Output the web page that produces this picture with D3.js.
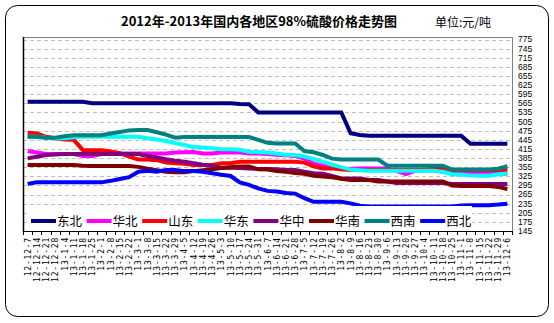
<!DOCTYPE html>
<html><head><meta charset="utf-8">
<script src="https://cdn.jsdelivr.net/npm/d3@7/dist/d3.min.js"></script>
<style>body{margin:0;background:#fff}svg{display:block}</style>
</head><body>
<svg id="c" width="554" height="323"></svg>
<script>
const categories = ["12-12-7","12-12-14","12-12-21","12-12-28","13-1-4","13-1-11","13-1-18","13-1-25","13-2-1","13-2-8","13-2-15","13-2-22","13-3-1","13-3-8","13-3-15","13-3-22","13-3-29","13-4-5","13-4-12","13-4-19","13-4-26","13-5-3","13-5-10","13-5-17","13-5-24","13-5-31","13-6-7","13-6-14","13-6-21","13-6-28","13-7-5","13-7-12","13-7-19","13-7-26","13-8-2","13-8-9","13-8-16","13-8-23","13-8-30","13-9-6","13-9-13","13-9-20","13-9-27","13-10-4","13-10-11","13-10-18","13-10-25","13-11-1","13-11-8","13-11-15","13-11-22","13-11-29","13-12-6"];
const yTicks = [145,175,205,235,265,295,325,355,385,415,445,475,505,535,565,595,625,655,685,715,745,775];
const seriesNames = ["东北","华北","山东","华东","华中","华南","西南","西北"];
const dongbei = [570,570,570,570,570,570,570,565,565,565,565,565,565,565,565,565,565,565,565,565,565,565,565,563,562,535,535,535,535,535,535,535,535,535,535,467,461,458,458,458,458,458,458,458,458,458,458,458,432,432,432,432,432];
const huabei = [408,403,398,398,398,398,392,392,398,400,400,400,400,400,400,400,403,404,405,400,400,403,403,403,400,400,398,396,394,392,383,366,360,353,348,350,351,351,351,351,343,332,343,345,345,340,335,333,333,333,333,333,333];
const shandong = [468,466,455,450,446,445,411,411,411,407,401,390,380,380,378,370,368,366,362,362,362,368,368,373,373,373,373,373,373,373,370,358,351,351,348,346,346,346,346,346,346,346,346,346,350,352,346,346,346,346,346,346,346];
const huadong = [455,455,452,450,450,453,455,455,455,455,455,455,455,450,446,441,434,428,421,420,417,414,414,412,406,405,403,400,396,395,390,382,373,363,355,347,345,343,343,343,343,343,343,343,343,340,332,330,328,327,327,332,334];
const huazhong = [384,389,395,397,398,398,398,398,398,398,398,398,398,392,387,381,376,373,368,363,359,353,353,352,351,349,349,348,346,346,340,335,333,326,318,318,318,313,313,308,303,303,303,303,303,303,300,300,300,300,300,300,300];
const huanan = [362,362,362,362,362,362,360,359,359,359,359,359,356,350,345,340,338,338,342,345,348,352,355,357,357,348,347,342,340,336,333,327,324,322,317,313,313,313,308,308,308,308,308,308,308,308,295,293,293,293,293,290,283];
const xinan = [455,455,452,452,457,460,460,460,460,466,471,476,477,477,470,462,452,454,454,454,454,454,454,454,454,445,435,433,433,433,408,404,395,383,380,380,380,380,380,360,360,360,360,360,360,360,347,347,347,347,347,350,358];
const xibei = [300,305,305,305,305,305,305,305,305,310,316,322,340,343,340,346,346,342,342,340,335,330,326,305,297,285,277,275,270,268,253,241,241,241,241,236,228,226,226,226,226,226,226,226,226,226,226,229,230,230,230,232,235];
const colors = ["#000080","#FF00FF","#FF0000","#00FFFF","#800080","#800000","#008080","#0000FF"];
const allSeries = [dongbei,huabei,shandong,huadong,huazhong,huanan,xinan,xibei];

const svg = d3.select("#c");
const L=23, R=512, T=37, B=231;
// outer frame
svg.append("rect").attr("x",5.5).attr("y",5.5).attr("width",543).attr("height",311).attr("rx",12)
  .attr("fill","#fff").attr("stroke","#000").attr("stroke-width",1);

const x = d3.scaleBand().domain(categories).range([L,R]).padding(0);
const y = d3.scaleLinear().domain([145,775]).range([B,39.5]);

// gridlines
svg.append("g").selectAll("line").data(yTicks.filter(d=>d>145)).join("line")
  .attr("x1",L).attr("x2",R).attr("y1",d=>Math.round(y(d))+0.5).attr("y2",d=>Math.round(y(d))+0.5)
  .attr("stroke","#c0c0c0").attr("stroke-width",1).attr("stroke-dasharray","4,3");
// plot border top/right
svg.append("line").attr("x1",L).attr("x2",R+0.5).attr("y1",T+0.5).attr("y2",T+0.5).attr("stroke","#808080");
svg.append("line").attr("x1",R+0.5).attr("x2",R+0.5).attr("y1",T).attr("y2",B).attr("stroke","#808080");

// y labels on right
svg.append("g").selectAll("text").data(yTicks).join("text")
  .attr("x",518).attr("y",d=>y(d)).attr("dy","0.35em")
  .attr("font-family","Liberation Sans, Arial, sans-serif").attr("font-size",8.5).attr("fill","#000")
  .text(d=>d);

// x axis
const xAxis = d3.axisBottom(x).tickSize(0).tickFormat("");
const gx = svg.append("g").attr("transform",`translate(0,${B+0.5})`).call(xAxis);
gx.select(".domain").attr("stroke","#000").attr("d",`M${L},0H${R}`);
const bounds = categories.map(c=>x(c)).concat([R]);
svg.append("g").selectAll("line").data(bounds).join("line")
  .attr("x1",d=>Math.round(d)+0.5).attr("x2",d=>Math.round(d)+0.5).attr("y1",B).attr("y2",B+4)
  .attr("stroke","#000");
svg.append("g").selectAll("text").data(categories).join("text")
  .attr("transform",d=>`translate(${x(d)+x.bandwidth()/2+3},237) rotate(-90)`)
  .attr("text-anchor","end")
  .attr("font-family","DejaVu Sans Mono, monospace").attr("font-size",8).attr("letter-spacing",0.8)
  .attr("fill","#000").text(d=>d);

// left axis line
svg.append("line").attr("x1",L+0.5).attr("x2",L+0.5).attr("y1",T).attr("y2",B+1).attr("stroke","#000").attr("stroke-width",1.5);

// series lines
const line = d3.line().x((d,i)=>x(categories[i])+x.bandwidth()/2).y(d=>y(d));
allSeries.forEach((s,k)=>{
  svg.append("path").datum(s).attr("d",line).attr("fill","none")
    .attr("stroke",colors[k]).attr("stroke-width",4).attr("stroke-linejoin","miter");
});

// legend
const lg = svg.append("g");
lg.append("rect").attr("x",28).attr("y",206).attr("width",444).attr("height",23).attr("fill","#fff");
seriesNames.forEach((n,k)=>{
  const lx = 31 + k*55.6;
  lg.append("line").attr("x1",lx).attr("x2",lx+25).attr("y1",221).attr("y2",221)
    .attr("stroke",colors[k]).attr("stroke-width",4);
  lg.append("text").attr("x",lx+26).attr("y",226)
    .attr("font-family","Noto Sans CJK SC, sans-serif").attr("font-size",12.5).attr("fill","#000").text(n);
});

// titles
svg.append("text").attr("x",259).attr("y",26).attr("text-anchor","middle")
  .attr("font-family","Noto Sans CJK SC, sans-serif").attr("font-weight","bold").attr("font-size",13)
  .attr("fill","#000").text("2012年-2013年国内各地区98%硫酸价格走势图");
svg.append("text").attr("x",435).attr("y",27)
  .attr("font-family","Noto Sans CJK SC, sans-serif").attr("font-size",12)
  .attr("fill","#000").text("单位:元/吨");
</script>
</body></html>
